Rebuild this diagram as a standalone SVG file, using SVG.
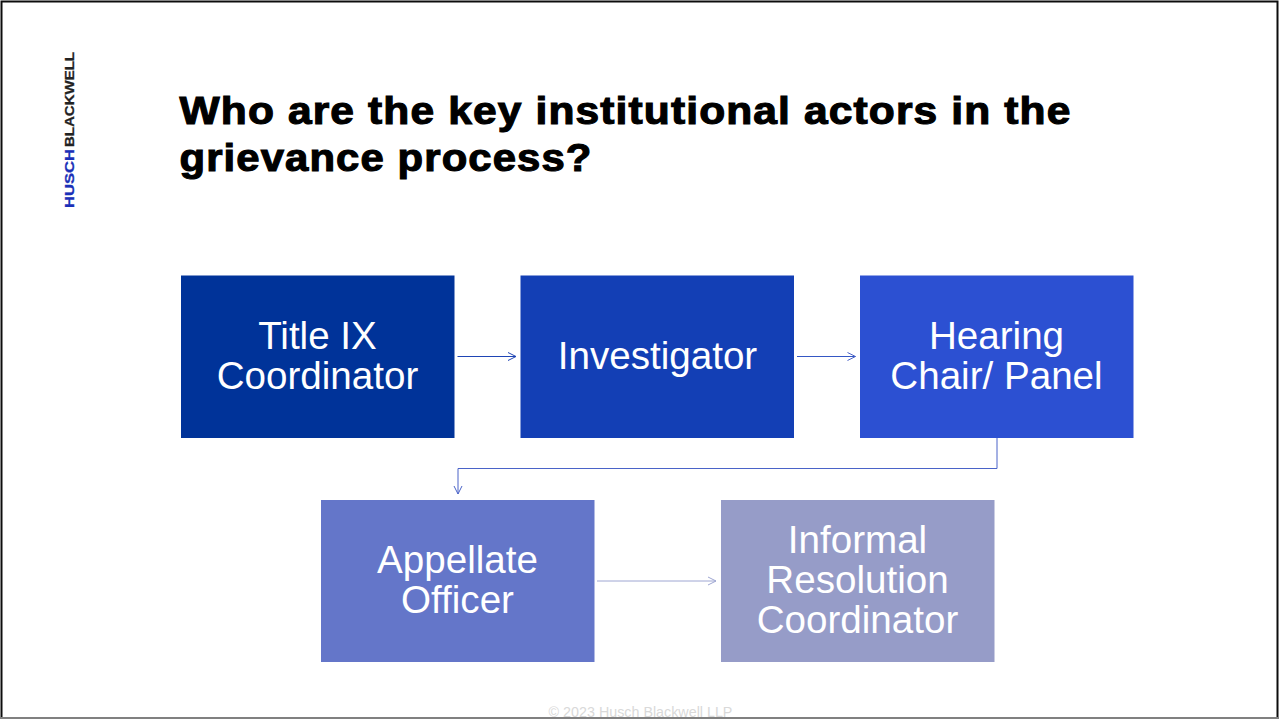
<svg xmlns="http://www.w3.org/2000/svg" width="1279" height="719" viewBox="0 0 1279 719">
<defs>
<marker id="a1" markerUnits="userSpaceOnUse" markerWidth="12" markerHeight="12" refX="9" refY="5" orient="auto"><path d="M1 1L9 5L1 9" fill="none" stroke="#1f45b5" stroke-width="1"/></marker>
<marker id="a2" markerUnits="userSpaceOnUse" markerWidth="12" markerHeight="12" refX="9" refY="5" orient="auto"><path d="M1 1L9 5L1 9" fill="none" stroke="#4a63c8" stroke-width="1"/></marker>
<marker id="a3" markerUnits="userSpaceOnUse" markerWidth="12" markerHeight="12" refX="9" refY="5" orient="auto"><path d="M1 1L9 5L1 9" fill="none" stroke="#9ea6d2" stroke-width="1"/></marker>
</defs>
<style>
text{font-family:"Liberation Sans",Arial,sans-serif}
.n{font-size:38.6px;fill:#fff;text-anchor:middle}
.c{fill:none;stroke-width:1}
</style>
<rect width="1279" height="719" fill="#fff"/>
<path d="M1.500 719V1.500H1277.500V719" fill="none" stroke="#0d0d0d" stroke-width="2"/>
<path d="M0 718H1279" stroke="#808080" stroke-width="2"/>
<g id="logo" font-weight="700" font-size="13" stroke-width=".3">
<text transform="translate(74,208) rotate(-90)" textLength="59" lengthAdjust="spacingAndGlyphs" fill="#1a2fb8" stroke="#1a2fb8">HUSCH</text>
<text transform="translate(74,147) rotate(-90)" textLength="95" lengthAdjust="spacingAndGlyphs" fill="#222" stroke="#222">BLACKWELL</text>
</g>
<g id="title" font-weight="700" font-size="38" fill="#000" stroke="#000" stroke-width="1.1" letter-spacing="1">
<text x="179.500" y="124" textLength="892" lengthAdjust="spacingAndGlyphs">Who are the key institutional actors in the</text>
<text x="179.500" y="171" textLength="413" lengthAdjust="spacingAndGlyphs">grievance process?</text>
</g>
<g id="connectors">
<path class="c" d="M457.500 356.500H516" stroke="#1f45b5" marker-end="url(#a1)"/>
<path class="c" d="M797 356.500H855.500" stroke="#3557c4" marker-end="url(#a2)"/>
<path class="c" d="M997 438V468.500H458V494" stroke="#4a63c8" marker-end="url(#a2)"/>
<path class="c" d="M597 581H716" stroke="#9ea6d2" marker-end="url(#a3)"/>
</g>
<g id="node-title-ix">
<rect x="181" y="275.500" width="273.500" height="162.500" fill="#003399"/>
<text class="n" x="317.500" y="348.500">Title IX</text><text class="n" x="317.500" y="388.500">Coordinator</text>
</g>
<g id="node-investigator">
<rect x="520.500" y="275.500" width="273.500" height="162.500" fill="#133fb5"/>
<text class="n" x="657.500" y="368.500">Investigator</text>
</g>
<g id="node-hearing">
<rect x="860" y="275.500" width="273.500" height="162.500" fill="#2c50d2"/>
<text class="n" x="996.500" y="348.500">Hearing</text><text class="n" x="996.500" y="388.500">Chair/ Panel</text>
</g>
<g id="node-appellate">
<rect x="321" y="500" width="273.500" height="162" fill="#6476c9"/>
<text class="n" x="457.500" y="572.500">Appellate</text><text class="n" x="457.500" y="612.500">Officer</text>
</g>
<g id="node-informal">
<rect x="721" y="500" width="273.500" height="162" fill="#969cc8"/>
<text class="n" x="857.500" y="552.500">Informal</text><text class="n" x="857.500" y="592.500">Resolution</text><text class="n" x="857.500" y="632.500">Coordinator</text>
</g>
<text id="footer" x="640.500" y="717" font-size="14.300" fill="#d9d9d9" text-anchor="middle">© 2023 Husch Blackwell LLP</text>
</svg>
